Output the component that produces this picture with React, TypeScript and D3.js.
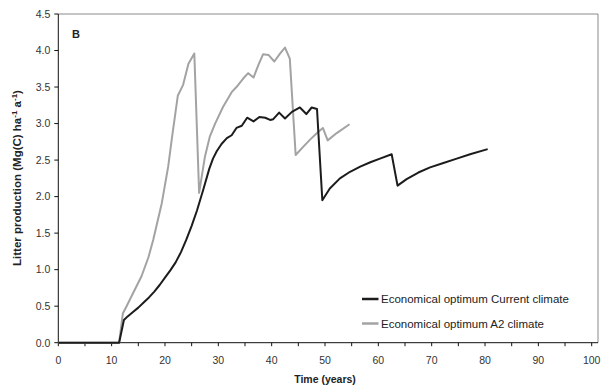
import { useEffect, useRef } from "react";
import * as d3 from "d3";

// Economical optimum, current climate (black)
const currentYears = [0, 11.4, 12.3, 13, 14, 15, 16, 17, 18, 19, 20, 21, 22, 23, 24, 25, 26, 27.2, 28.3, 29, 29.7, 30.6, 31.6, 32.5, 33.4, 34.4, 35.4, 36.6, 37.7, 38.8, 39.7, 40.3, 41.4, 42.5, 43.8, 45.3, 46.5, 47.5, 48.5, 49.5, 50.9, 52.8, 54.7, 56.6, 58.5, 60.3, 62.5, 63.6, 65.3, 67.5, 69.7, 72.2, 74.7, 77.2, 80.5];
const currentValues = [0, 0, 0.31, 0.36, 0.42, 0.48, 0.55, 0.62, 0.7, 0.79, 0.89, 0.99, 1.1, 1.24, 1.41, 1.6, 1.81, 2.1, 2.38, 2.52, 2.62, 2.72, 2.8, 2.84, 2.94, 2.97, 3.08, 3.03, 3.09, 3.08, 3.05, 3.06, 3.15, 3.07, 3.16, 3.22, 3.13, 3.22, 3.2, 1.95, 2.11, 2.25, 2.34, 2.41, 2.47, 2.52, 2.58, 2.15, 2.24, 2.33, 2.4, 2.46, 2.52, 2.58, 2.65];

// Economical optimum, A2 climate (grey)
const a2Years = [0, 11.4, 12.1, 12.8, 14.1, 15.6, 16.9, 17.8, 19.4, 20.6, 21.3, 22.4, 23.4, 24.4, 25.5, 26.4, 27.5, 28.4, 29.4, 30.9, 32.5, 33.4, 34.7, 35.6, 36.6, 37.5, 38.4, 39.4, 40.5, 41.6, 42.5, 43.4, 44.5, 45.9, 47.2, 48.5, 49.6, 50.5, 52.2, 54.6];
const a2Values = [0, 0, 0.4, 0.5, 0.69, 0.91, 1.17, 1.41, 1.91, 2.41, 2.8, 3.38, 3.53, 3.82, 3.96, 2.05, 2.55, 2.82, 3.0, 3.23, 3.43, 3.5, 3.62, 3.69, 3.63, 3.8, 3.95, 3.94, 3.85, 3.96, 4.04, 3.89, 2.57, 2.68, 2.78, 2.87, 2.94, 2.77, 2.87, 2.99];

const xTicks = [0, 10, 20, 30, 40, 50, 60, 70, 80, 90, 100];
const yTicks = [0, 0.5, 1, 1.5, 2, 2.5, 3, 3.5, 4, 4.5];

const series = [
    { name: "Economical optimum Current climate", years: currentYears, values: currentValues, color: "#1c1c1c" },
    { name: "Economical optimum A2 climate", years: a2Years, values: a2Values, color: "#a3a3a3" },
];

export default function App() {
    const ref = useRef<SVGSVGElement>(null);

    useEffect(() => {
        if (!ref.current) return;
        const svg = d3.select(ref.current);
        svg.selectAll("*").remove();

        const font = "'Liberation Sans', Arial, sans-serif";
        const left = 58.3, right = 591.7, frameRight = 598, top = 14, bottom = 342.7;

        const x = d3.scaleLinear().domain([0, 100]).range([left, right]);
        const y = d3.scaleLinear().domain([0, 4.5]).range([bottom, top]);

        // frame: top and right in grey
        svg.append("line").attr("x1", left).attr("x2", frameRight).attr("y1", top).attr("y2", top)
            .attr("stroke", "#8a8a8a").attr("stroke-width", 1);
        svg.append("line").attr("x1", frameRight).attr("x2", frameRight).attr("y1", top).attr("y2", bottom)
            .attr("stroke", "#8a8a8a").attr("stroke-width", 1);

        // x axis
        const xAxis = svg.append("g");
        xAxis.append("line").attr("x1", left).attr("x2", frameRight).attr("y1", bottom).attr("y2", bottom)
            .attr("stroke", "#111").attr("stroke-width", 1);
        d3.range(0, 101, 5).forEach((t) => {
            xAxis.append("line").attr("x1", x(t)).attr("x2", x(t)).attr("y1", bottom).attr("y2", bottom + 3.5)
                .attr("stroke", "#111").attr("stroke-width", 1);
        });
        xTicks.forEach((t) => {
            xAxis.append("text").attr("x", x(t)).attr("y", bottom + 21)
                .attr("text-anchor", "middle").attr("font-family", font).attr("font-size", 10.5)
                .attr("fill", "#333").text(t);
        });

        // y axis
        const yAxis = svg.append("g");
        yAxis.append("line").attr("x1", left).attr("x2", left).attr("y1", top).attr("y2", bottom)
            .attr("stroke", "#111").attr("stroke-width", 1);
        yTicks.forEach((v) => {
            yAxis.append("line").attr("x1", left - 4).attr("x2", left).attr("y1", y(v)).attr("y2", y(v))
                .attr("stroke", "#111").attr("stroke-width", 1);
            yAxis.append("text").attr("x", left - 8).attr("y", y(v) + 3.8)
                .attr("text-anchor", "end").attr("font-family", font).attr("font-size", 10.5)
                .attr("fill", "#333").text(d3.format(".1f")(v));
        });

        // axis titles
        svg.append("text").attr("x", (left + right) / 2).attr("y", 383)
            .attr("text-anchor", "middle").attr("font-family", font).attr("font-size", 10.5)
            .attr("font-weight", "bold").attr("fill", "#222").text("Time (years)");

        const yt = svg.append("text").attr("transform", "translate(21,178) rotate(-90)")
            .attr("text-anchor", "middle").attr("font-family", font).attr("font-size", 11.5)
            .attr("font-weight", "bold").attr("fill", "#222");
        yt.append("tspan").text("Litter production (Mg(C) ha");
        yt.append("tspan").attr("dy", -4).attr("font-size", 8).text("-1");
        yt.append("tspan").attr("dy", 4).text(" a");
        yt.append("tspan").attr("dy", -4).attr("font-size", 8).text("-1");
        yt.append("tspan").attr("dy", 4).text(")");

        svg.append("text").attr("x", 72).attr("y", 37.5).attr("font-family", font).attr("font-size", 11)
            .attr("font-weight", "bold").attr("fill", "#222").text("B");

        // lines
        const line = d3.line<[number, number]>().x((d) => x(d[0])).y((d) => y(d[1]));
        [...series].reverse().forEach((s) => {
            const pts = s.years.map((t, i) => [t, s.values[i]] as [number, number]);
            svg.append("path").attr("d", line(pts)).attr("fill", "none")
                .attr("stroke", s.color).attr("stroke-width", 2).attr("stroke-linejoin", "round");
        });

        // legend
        series.forEach((s, i) => {
            const ly = 299 + i * 24.5;
            svg.append("line").attr("x1", 362).attr("x2", 378.5).attr("y1", ly).attr("y2", ly)
                .attr("stroke", s.color).attr("stroke-width", 2.5);
            svg.append("text").attr("x", 381).attr("y", ly + 4).attr("font-family", font)
                .attr("font-size", 11.5).attr("fill", "#222").text(s.name);
        });
    }, []);

    return (
        <svg ref={ref} width={611} height={390}
            style={{ position: "absolute", left: 0, top: 0, background: "#fff" }} />
    );
}
